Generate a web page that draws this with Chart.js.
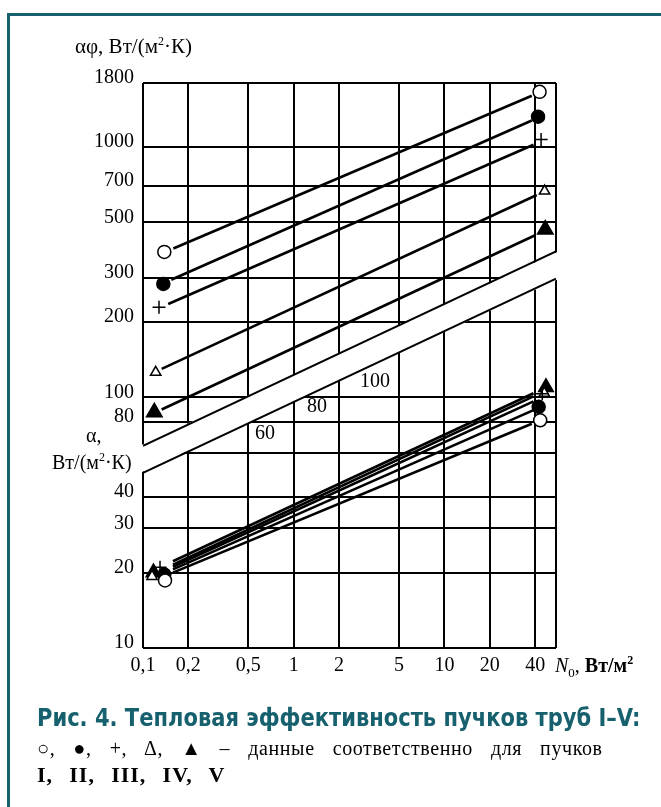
<!DOCTYPE html>
<html>
<head>
<meta charset="utf-8">
<script src="https://cdn.jsdelivr.net/npm/chart.js@4.4.0/dist/chart.umd.min.js"></script>
<style>
    html, body { margin: 0; padding: 0; background: #fff; }
    body { width: 661px; height: 807px; position: relative; overflow: hidden; font-family: "Liberation Serif", serif; color: #000; }
    #frame { position: absolute; left: 7px; top: 13px; width: 720px; height: 850px; border-top: 3px solid #17606e; border-left: 3px solid #17606e; }
    #chart { position: absolute; left: 0; top: 0; }
    .t { position: absolute; white-space: nowrap; line-height: 1; font-size: 20px; transform-origin: 0 50%; }
    .sup { position: relative; top: -8px; font-size: 12px; }
    .sub { position: relative; top: 5px; font-size: 13px; }
    .cap { color: #17606e; font-family: "Liberation Sans Narrow", "DejaVu Sans Condensed", sans-serif; font-weight: bold; font-size: 24px; }
</style>
</head>
<body>
<div id="frame"></div>
<canvas id="chart" width="661" height="807"></canvas>

<div class="t" style="left:75px;top:36px;font-size:21px">αφ, Вт/(м<span class="sup">2</span>·К)</div>
<div class="t" style="left:86px;top:425px">α,</div>
<div class="t" style="left:52px;top:452px">Вт/(м<span class="sup">2</span>·К)</div>
<div class="t" style="left:555px;top:655px"><i>N</i><span class="sub">0</span>, <b>Вт/м<span class="sup">2</span></b></div>
<div class="t" style="left:255px;top:422px">60</div>
<div class="t" style="left:307px;top:395px">80</div>
<div class="t" style="left:360px;top:370px">100</div>

<div class="t cap" style="left:37px;top:706px" data-w="603">Рис. 4. Тепловая эффективность пучков труб I–V:</div>
<div class="t" style="left:37px;top:738px;font-size:20px;letter-spacing:0.6px" data-ws="566">○, ●, +, Δ, ▲ – данные соответственно для пучков</div>
<div class="t" style="left:37px;top:764px;font-size:22px;font-weight:bold;letter-spacing:1px" data-ws="188">I, II, III, IV, V</div>

<script>
/* Тепловая эффективность пучков труб I-V, log-log nomogram */

const xTicks = [0.1, 0.2, 0.5, 1, 2, 5, 10, 20, 40, 55];
const xTickLabels = ["0,1", "0,2", "0,5", "1", "2", "5", "10", "20", "40", ""];
const yTicks = [10, 20, 30, 40, 60, 80, 100, 200, 300, 500, 700, 1000, 1800];
const yTickLabels = ["10", "20", "30", "40", "", "80", "100", "200", "300", "500", "700", "1000", "1800"];

const bundles = ["I", "II", "III", "IV", "V"];

// upper family: αφ, fitted lines and measured points
const upperLineX = [[0.159, 38], [0.154, 38], [0.147, 39], [0.133, 41], [0.133, 40]];
const upperLineY = [[393, 1600], [295, 1275], [236, 1020], [130, 643], [89.5, 444]];
const upperMarkX = [[0.1385, 42.8], [0.1364, 41.8], [0.1277, 43.8], [0.1214, 46.2], [0.1189, 46.7]];
const upperMarkY = [[381, 1660], [284, 1320], [229, 1070], [126, 667], [87.3, 468]];

// lower family: α
const lowerLineX = [[0.158, 38], [0.158, 39], [0.158, 39], [0.158, 39], [0.158, 39]];
const lowerLineY = [[20.0, 78.6], [20.6, 89], [21.1, 96.5], [21.5, 101], [22.2, 104]];
const lowerMarkX = [[0.140, 43.2], [0.1385, 42.2], [0.1297, 44.6], [0.1148, 46.0], [0.1174, 47.2]];
const lowerMarkY = [[18.6, 81.1], [19.65, 91.8], [21.0, 103.5], [19.3, 104], [20.0, 109.8]];

// blank strip between the two families
const bandX = [0.1, 55];
const bandTopY = [64.1, 383];
const bandBottomY = [50.0, 298];

/* marker look per bundle */
const markStyle = {
    pointStyle: ["circle", "circle", "cross", "triangle", "triangle"],
    fill: ["#fff", "#000", "#000", "#fff", "#000"],
    radiusUp: [6.5, 6.5, 6.5, 6, 9],
    radiusLow: [6.5, 6.5, 6.5, 6, 8.5],
};

const tickFont = {family: "Liberation Serif", size: 20};

window.addEventListener("load", () => {
    fitTexts();
    drawChart();
});

/* data-w: stretch the line to a width; data-ws: widen the word gaps instead */
function fitTexts() {
    document.querySelectorAll("[data-w]").forEach((el) => {
        const w = parseFloat(el.getAttribute("data-w"));
        el.style.transform = "scaleX(" + (w / el.offsetWidth) + ")";
    });
    document.querySelectorAll("[data-ws]").forEach((el) => {
        const w = parseFloat(el.getAttribute("data-ws"));
        const gaps = el.textContent.split(" ").length - 1;
        el.style.wordSpacing = ((w - el.offsetWidth) / gaps) + "px";
    });
}

function points(xs, ys) {
    return xs.map((x, i) => ({x: x, y: ys[i]}));
}

/* Paints the strip white so grid and frame are cut there */
const bandPlugin = {
    id: "band",
    beforeDatasetsDraw(chart) {
        const {ctx, scales: {x, y}} = chart;
        const x0 = x.getPixelForValue(bandX[0]) - 3;
        const x1 = x.getPixelForValue(bandX[1]) + 3;
        ctx.save();
        ctx.fillStyle = "#fff";
        ctx.beginPath();
        ctx.moveTo(x0, y.getPixelForValue(bandTopY[0]));
        ctx.lineTo(x1, y.getPixelForValue(bandTopY[1]));
        ctx.lineTo(x1, y.getPixelForValue(bandBottomY[1]));
        ctx.lineTo(x0, y.getPixelForValue(bandBottomY[0]));
        ctx.closePath();
        ctx.fill();
        ctx.restore();
    }
};

function drawChart() {
    const datasets = [];

    // markers first so they end up on top
    bundles.forEach((name, i) => {
        [[upperMarkX, upperMarkY, markStyle.radiusUp], [lowerMarkX, lowerMarkY, markStyle.radiusLow]].forEach(([mx, my, rad]) => {
            datasets.push({
                label: name,
                data: points(mx[i], my[i]),
                showLine: false,
                pointStyle: markStyle.pointStyle[i],
                pointRadius: rad[i],
                pointBackgroundColor: markStyle.fill[i],
                pointBorderColor: "#000",
                pointBorderWidth: 1.5,
                clip: 12,
            });
        });
    });

    bundles.forEach((name, i) => {
        [[upperLineX, upperLineY], [lowerLineX, lowerLineY]].forEach(([lx, ly]) => {
            datasets.push({
                label: name,
                data: points(lx[i], ly[i]),
                showLine: true,
                borderColor: "#000",
                borderWidth: 2.6,
                pointRadius: 0,
            });
        });
    });

    [bandTopY, bandBottomY].forEach((by) => {
        datasets.push({
            label: "band",
            data: points(bandX, by),
            showLine: true,
            borderColor: "#000",
            borderWidth: 2,
            pointRadius: 0,
        });
    });

    new Chart("chart", {
        type: "scatter",
        data: {datasets: datasets},
        plugins: [bandPlugin],
        options: {
            responsive: false,
            animation: false,
            devicePixelRatio: 1,
            layout: {padding: {left: 0, top: 83, right: 105, bottom: 119}},
            plugins: {legend: {display: false}, tooltip: {enabled: false}},
            scales: {
                x: {
                    type: "logarithmic",
                    min: 0.1,
                    max: 55,
                    afterBuildTicks: (s) => { s.ticks = xTicks.map((v) => ({value: v})); },
                    afterFit: (s) => { s.height = 40; },
                    grid: {color: "#000", lineWidth: 2, drawTicks: false},
                    border: {display: false},
                    ticks: {
                        autoSkip: false,
                        maxRotation: 0,
                        padding: 6,
                        color: "#000",
                        font: tickFont,
                        callback: (v, i) => xTickLabels[i],
                    },
                },
                y: {
                    type: "logarithmic",
                    min: 10,
                    max: 1800,
                    afterBuildTicks: (s) => { s.ticks = yTicks.map((v) => ({value: v})); },
                    afterFit: (s) => { s.width = 143; },
                    grid: {color: "#000", lineWidth: 2, drawTicks: false},
                    border: {display: false},
                    ticks: {
                        autoSkip: false,
                        padding: 9,
                        labelOffset: -5,
                        color: "#000",
                        font: tickFont,
                        callback: (v, i) => yTickLabels[i],
                    },
                },
            },
        },
    });
}
</script>
</body>
</html>
